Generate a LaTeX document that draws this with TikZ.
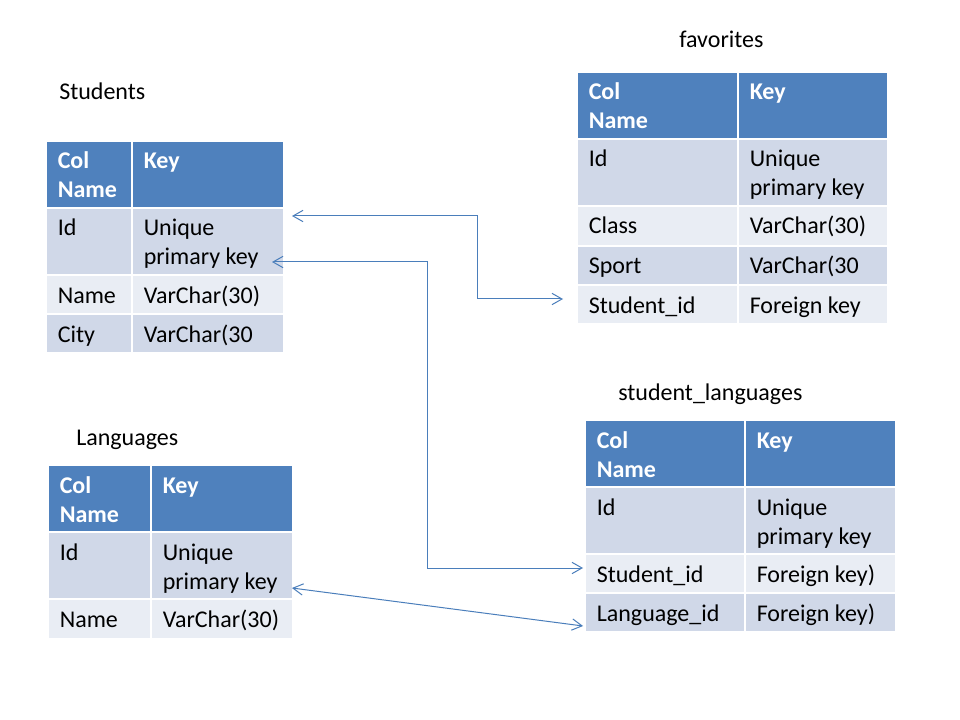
\documentclass[tikz,border=0pt]{standalone}
\usepackage{fontspec}
\setmainfont{Carlito}
\usetikzlibrary{arrows.meta,calc}
\definecolor{hdr}{HTML}{4F81BD}
\definecolor{drk}{HTML}{D0D8E8}
\definecolor{lgt}{HTML}{E9EDF4}
\definecolor{arr}{HTML}{4A7EBB}
\tikzset{
  cellbox/.style={draw=none,inner sep=0pt,outer sep=0pt,anchor=north west},
  celltxt/.style={anchor=base west,inner sep=0pt,font=\fontsize{18}{21.75}\selectfont,text=black},
  hdrtxt/.style={celltxt,text=white,font=\fontsize{18}{21.75}\selectfont\bfseries},
  ttl/.style={anchor=base west,inner sep=0pt,font=\fontsize{18}{21.75}\selectfont,text=black},
  link/.style={draw=arr,line width=0.75pt,{Straight Barb[length=7.5pt,width=8.5pt]}-{Straight Barb[length=7.5pt,width=8.5pt]}}
}
% \cell{name}{x1}{y1}{x2}{y2}{fill}
\newcommand{\cell}[6]{\node[cellbox,fill=#6,minimum width={(#4-#2)*0.75pt},minimum height={(#5-#3)*0.75pt}] (#1) at (#2,#3) {};}
% \ctx{cell}{line}{text}{style}  line = 0 or 1
\newcommand{\ctx}[4]{\node[#4] (#1-t#2) at ($(#1.north west)+(10.5,{27+29*#2})$) {#3};}
\begin{document}
\begin{tikzpicture}[x=0.75pt,y=-0.75pt]
\useasboundingbox[fill=white] (0,0) rectangle (960,720);

% ---------- Students ----------
\node[ttl] (tS) at (59,100) {Students};
\cell{sh1}{47}{142}{131}{207}{hdr} \cell{sh2}{133}{142}{283}{207}{hdr}
\cell{sa1}{47}{209}{131}{274}{drk} \cell{sa2}{133}{209}{283}{274}{drk}
\cell{sb1}{47}{276}{131}{313}{lgt} \cell{sb2}{133}{276}{283}{313}{lgt}
\cell{sc1}{47}{315}{131}{352}{drk} \cell{sc2}{133}{315}{283}{352}{drk}
\ctx{sh1}{0}{Col}{hdrtxt} \ctx{sh1}{1}{Name}{hdrtxt} \ctx{sh2}{0}{Key}{hdrtxt}
\ctx{sa1}{0}{Id}{celltxt} \ctx{sa2}{0}{Unique}{celltxt} \ctx{sa2}{1}{primary key}{celltxt}
\ctx{sb1}{0}{Name}{celltxt} \ctx{sb2}{0}{VarChar(30)}{celltxt}
\ctx{sc1}{0}{City}{celltxt} \ctx{sc2}{0}{VarChar(30}{celltxt}

% ---------- favorites ----------
\node[ttl] (tF) at (679,48) {favorites};
\cell{fh1}{578}{73}{737}{138}{hdr} \cell{fh2}{739}{73}{887}{138}{hdr}
\cell{fa1}{578}{140}{737}{205}{drk} \cell{fa2}{739}{140}{887}{205}{drk}
\cell{fb1}{578}{207}{737}{245}{lgt} \cell{fb2}{739}{207}{887}{245}{lgt}
\cell{fc1}{578}{247}{737}{284}{drk} \cell{fc2}{739}{247}{887}{284}{drk}
\cell{fd1}{578}{286}{737}{323}{lgt} \cell{fd2}{739}{286}{887}{323}{lgt}
\ctx{fh1}{0}{Col}{hdrtxt} \ctx{fh1}{1}{Name}{hdrtxt} \ctx{fh2}{0}{Key}{hdrtxt}
\ctx{fa1}{0}{Id}{celltxt} \ctx{fa2}{0}{Unique}{celltxt} \ctx{fa2}{1}{primary key}{celltxt}
\ctx{fb1}{0}{Class}{celltxt} \ctx{fb2}{0}{VarChar(30)}{celltxt}
\ctx{fc1}{0}{Sport}{celltxt} \ctx{fc2}{0}{VarChar(30}{celltxt}
\ctx{fd1}{0}{Student\_id}{celltxt} \ctx{fd2}{0}{Foreign key}{celltxt}

% ---------- student_languages ----------
\node[ttl] (tSL) at (618,400) {student\_languages};
\cell{gh1}{586}{421}{744}{486}{hdr} \cell{gh2}{746}{421}{895}{486}{hdr}
\cell{ga1}{586}{488}{744}{553}{drk} \cell{ga2}{746}{488}{895}{553}{drk}
\cell{gb1}{586}{555}{744}{592}{lgt} \cell{gb2}{746}{555}{895}{592}{lgt}
\cell{gc1}{586}{594}{744}{631}{drk} \cell{gc2}{746}{594}{895}{631}{drk}
\ctx{gh1}{0}{Col}{hdrtxt} \ctx{gh1}{1}{Name}{hdrtxt} \ctx{gh2}{0}{Key}{hdrtxt}
\ctx{ga1}{0}{Id}{celltxt} \ctx{ga2}{0}{Unique}{celltxt} \ctx{ga2}{1}{primary key}{celltxt}
\ctx{gb1}{0}{Student\_id}{celltxt} \ctx{gb2}{0}{Foreign key)}{celltxt}
\ctx{gc1}{0}{Language\_id}{celltxt} \ctx{gc2}{0}{Foreign key)}{celltxt}

% ---------- Languages ----------
\node[ttl] (tL) at (76,445) {Languages};
\cell{lh1}{49}{466}{150}{531}{hdr} \cell{lh2}{152}{466}{292}{531}{hdr}
\cell{la1}{49}{533}{150}{598}{drk} \cell{la2}{152}{533}{292}{598}{drk}
\cell{lb1}{49}{600}{150}{638}{lgt} \cell{lb2}{152}{600}{292}{638}{lgt}
\ctx{lh1}{0}{Col}{hdrtxt} \ctx{lh1}{1}{Name}{hdrtxt} \ctx{lh2}{0}{Key}{hdrtxt}
\ctx{la1}{0}{Id}{celltxt} \ctx{la2}{0}{Unique}{celltxt} \ctx{la2}{1}{primary key}{celltxt}
\ctx{lb1}{0}{Name}{celltxt} \ctx{lb2}{0}{VarChar(30)}{celltxt}

% ---------- connectors ----------
\coordinate (a1s) at ($(sa2.north east)+(9,7)$);
\coordinate (a1e) at ($(fd1.north west)+(-15,13)$);
\draw[link] (a1s) -- (a1s -| 477,0) |- (a1e);

\coordinate (a2s) at ($(sa2.north east)+(-11,53)$);
\coordinate (a2e) at ($(gb1.north west)+(-3,13)$);
\draw[link] (a2s) -- (a2s -| 427,0) |- (a2e);

\coordinate (a3s) at ($(la2.north east)+(0,55)$);
\coordinate (a3e) at ($(gc1.north west)+(-3,32)$);
\draw[link] (a3s) -- (a3e);
\end{tikzpicture}
\end{document}
